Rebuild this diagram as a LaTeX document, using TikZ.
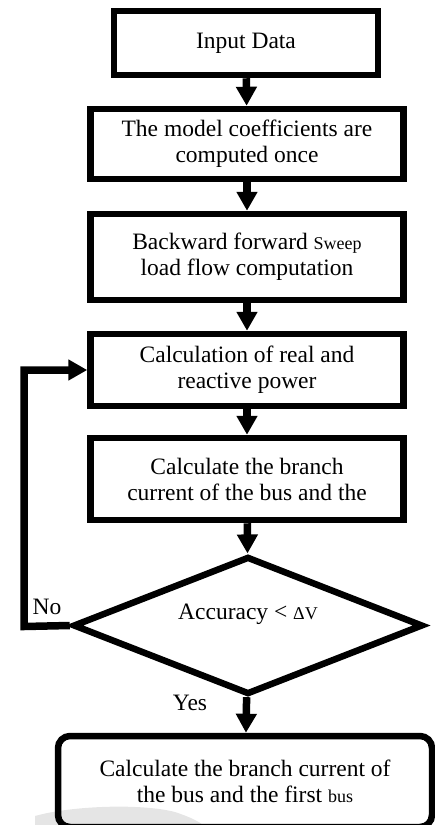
\documentclass[tikz,border=0pt]{standalone}
\usepackage{fontspec}
\setmainfont{Liberation Serif}
\usetikzlibrary{arrows.meta,shapes.geometric}
\newcommand{\smtxt}[1]{{\fontsize{18}{20}\selectfont #1}}
\begin{document}
\begin{tikzpicture}[x=1pt,y=-1pt,
  box/.style={draw, line width=6.5pt, fill=white, inner sep=0pt, align=center,
              font=\fontsize{23.5}{26}\selectfont},
  flow/.style={line width=7.5pt, -{Triangle[width=20pt,length=19pt]}},
  lbl/.style={inner sep=0pt, font=\fontsize{23.5}{26}\selectfont}]
\useasboundingbox (0,0) rectangle (435,825);
\clip (0,0) rectangle (435,825);
% faint grey blotch at the bottom
\fill[black!10] (35,825) -- (35,816) .. controls (70,806) and (140,803) .. (175,812)
  .. controls (190,817) and (198,821) .. (203,825) -- cycle;

\node[box, minimum width=264pt, minimum height=64pt] (b1) at (246,43) {Input Data};
\node[box, minimum width=313pt, minimum height=70pt] (b2) at (247,144)
  {The model coefficients are\\computed once};
\node[box, minimum width=313pt, minimum height=86pt] (b3) at (247,257)
  {Backward forward \smtxt{Sweep}\\load flow computation};
\node[box, minimum width=313pt, minimum height=72pt] (b4) at (247,370)
  {Calculation of real and\\reactive power};
\node[box, minimum width=313pt, minimum height=82pt] (b5) at (247,479)
  {Calculate the branch\\current of the bus and the};
\node[draw, line width=6.5pt, diamond, aspect=2.5, inner sep=0pt,
      minimum width=350pt, minimum height=138pt] (dia) at (248,625.5) {};
\node[lbl] (acc) at (248,614) {Accuracy < \smtxt{ΔV}};
\node[box, fill=none, rounded corners=12pt, minimum width=374pt, minimum height=91pt] (b6)
  at (245,781.5) {Calculate the branch current of\\the bus and the first \smtxt{bus}};

\coordinate (fb) at (24,626.5);
\node[lbl] (no) at (47,607) {No};
\node[lbl] (yes) at (190,703) {Yes};

\draw[flow] (b1) -- (b2);
\draw[flow] (b2) -- (b3);
\draw[flow] (b3) -- (b4);
\draw[flow] (b4) -- (b5);
\draw[flow] (b5) -- (dia);
\draw[flow] (dia) -- (b6);
\draw[flow, line join=miter] (dia.west) -- (fb) |- (b4.west);
\end{tikzpicture}
\end{document}
